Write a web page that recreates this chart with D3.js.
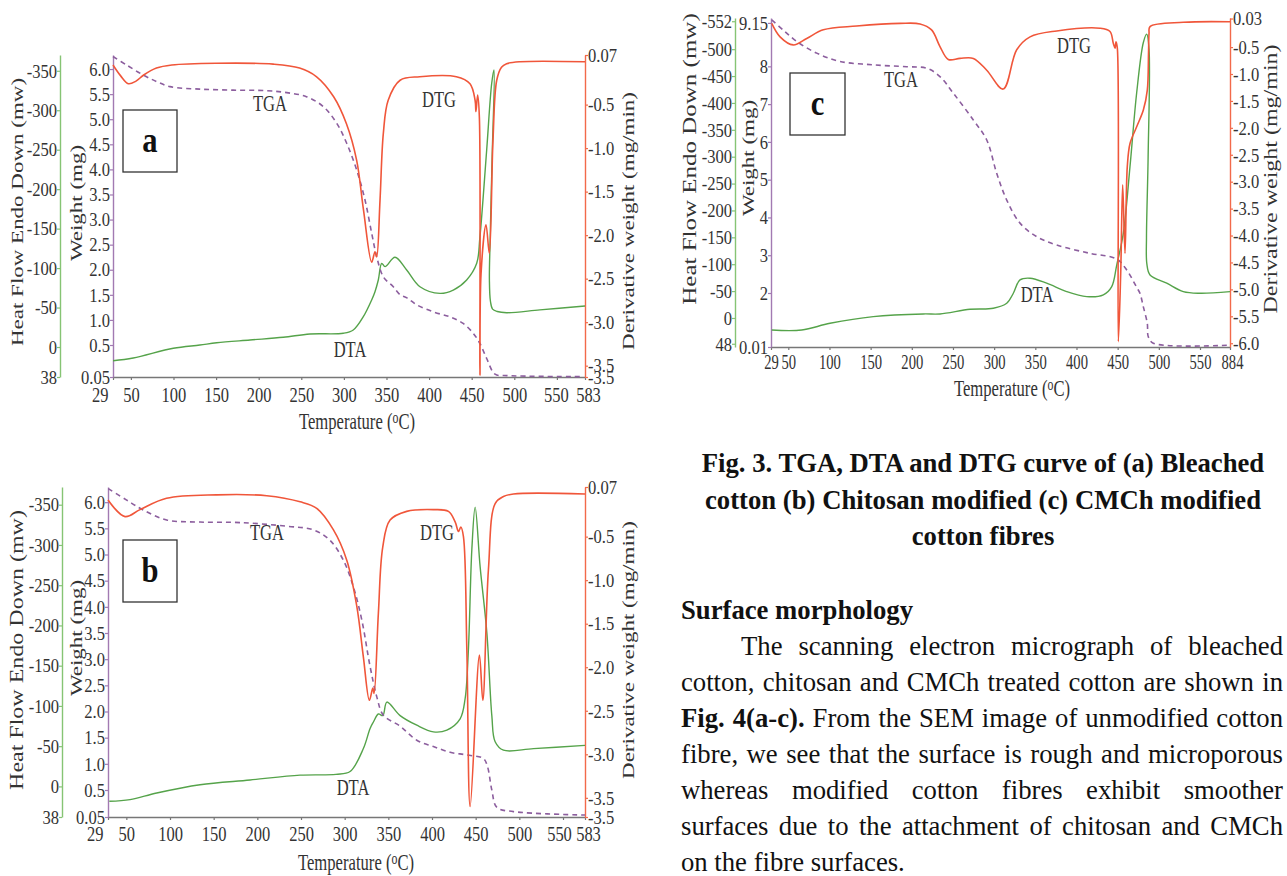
<!DOCTYPE html>
<html><head><meta charset="utf-8">
<script src="https://cdn.jsdelivr.net/npm/d3@7"></script>
<style>
html,body{margin:0;padding:0;background:#fff;}
svg{display:block;}
text{font-family:"Liberation Serif","Times New Roman",serif;}
</style></head><body>
<svg id="chart" width="1287" height="876"></svg>
<script>
// ---------------- DATA ----------------
// temperature (°C) vs DTG (mg/min), DTA heat flow (mW), TGA weight (mg)
const a_dtg = [[29,-0.045],[38,-0.17],[47,-0.26],[56,-0.23],[65,-0.16],[80,-0.08],[98,-0.045],[150,-0.025],[217,-0.035],[248,-0.08],[268,-0.18],[288,-0.41],[303,-0.72],[315,-1.14],[323,-1.71],[332.6,-2.31],[336.5,-2.19],[338.5,-2.25],[342.4,-1.60],[346.3,-0.83],[352,-0.45],[366,-0.22],[389,-0.18],[432,-0.18],[448,-0.26],[454,-0.45],[455,-0.58],[457,-0.39],[459,-0.64],[459.7,-3.61],[461,-2.44],[466.8,-1.88],[470.7,-2.21],[475,-0.91],[479.4,-0.22],[485,-0.07],[491,-0.03],[506.7,-0.007],[583,-0.007]];
const a_dta = [[29,17.4],[52.8,13.9],[99.8,1.6],[131,-2.5],[150.7,-5.4],[189.8,-8.9],[228.9,-12.3],[260.2,-16.5],[299.3,-17.4],[311,-21.5],[322.8,-38.4],[332.6,-59.6],[336.5,-70.1],[340.4,-84.9],[344.4,-106],[348.3,-101.8],[360,-113.7],[373.7,-97.6],[389.3,-76.4],[412.8,-68],[428.4,-72.2],[444.1,-84.9],[455.9,-106],[459.7,-139.8],[467.6,-249.7],[473.5,-334.2],[476.2,-351],[474,-240],[471.5,-130],[470.8,-85],[472,-58],[474.5,-48],[480,-45],[491,-43.5],[530,-47],[583,-52]];
const a_tga = [[29,6.25],[45,6.08],[64.6,5.88],[80.3,5.75],[95.9,5.65],[131,5.60],[170,5.58],[209,5.57],[233,5.53],[256,5.45],[276,5.25],[291.6,4.92],[303.3,4.52],[315,3.99],[324.8,3.39],[332.6,2.73],[338.5,2.26],[346.3,1.86],[358,1.66],[366,1.50],[374,1.44],[385.5,1.30],[405,1.16],[424.5,1.06],[440,0.93],[452,0.73],[459.7,0.53],[467.6,0.31],[477.4,0.09],[491,0.07],[581,0.055]];

const b_dtg = [[29,-0.08],[48.5,-0.27],[65.7,-0.19],[96,-0.06],[153.5,-0.02],[210.8,-0.03],[249,-0.10],[268,-0.175],[287,-0.42],[302.4,-0.77],[313.9,-1.30],[321.4,-1.88],[328.3,-2.38],[332.2,-2.24],[333.7,-2.30],[338.6,-1.38],[343.6,-0.62],[352,-0.31],[371,-0.21],[401.6,-0.19],[418.8,-0.21],[426.5,-0.33],[430.3,-0.44],[433,-0.39],[436,-0.50],[439.9,-1.8],[443.7,-3.60],[454.3,-1.86],[458.2,-2.38],[464.6,-0.88],[472.3,-0.12],[481.8,-0.04],[493.3,-0.01],[583,-0.01]];
const b_dta = [[30.5,18.5],[54.2,16.4],[84.8,8.2],[134.4,-2.1],[191.7,-8],[248.9,-14],[290,-15],[306.2,-18.5],[321.4,-47],[329.1,-72],[332.9,-80],[338.6,-90],[343.7,-88],[348.3,-104.8],[363.5,-88],[382.6,-76],[401.6,-67.8],[417,-70],[432.2,-84],[437.9,-108.9],[441.7,-170.5],[445.6,-294],[449.4,-347],[455.1,-273],[462.8,-191],[468.5,-88],[472.3,-55.5],[481.8,-45],[516.2,-47],[583,-51]];
const b_tga = [[29.3,6.26],[50.4,6.04],[69.4,5.85],[96.2,5.66],[134.4,5.62],[180.2,5.61],[233.7,5.54],[264.2,5.47],[283.3,5.27],[298.5,4.89],[310,4.38],[319.6,3.75],[329.1,2.86],[336.8,2.28],[344.3,1.93],[363.5,1.72],[382.6,1.45],[401.6,1.33],[420.8,1.22],[439.9,1.17],[458.9,1.10],[463.5,0.95],[468.5,0.5],[474.3,0.21],[493.3,0.14],[583,0.083]];

const c_dtg = [[29.9,-0.06],[40,-0.31],[56,-0.46],[72.4,-0.34],[92.5,-0.18],[133,-0.11],[185.7,-0.06],[210,-0.07],[224,-0.18],[234.2,-0.49],[244.3,-0.73],[258.5,-0.71],[274.7,-0.71],[291,-0.93],[311,-1.28],[327.4,-0.55],[343.6,-0.31],[376,-0.20],[428.6,-0.15],[440.7,-0.21],[444.7,-0.43],[446.8,-0.52],[448,-0.40],[449.6,-0.52],[450.8,-5.97],[453.7,-4.70],[456.1,-3.06],[458.9,-4.33],[461.7,-2.72],[465,-2.29],[473.1,-1.98],[481.2,-1.67],[486,-1.30],[487.5,-0.6],[488.1,-0.25],[489.3,-0.12],[529.7,-0.04],[884,-0.03]];
const c_dta = [[29.9,22.4],[66.3,22.4],[100.7,9.9],[153.2,-2.5],[214,-7.5],[234.2,-7.5],[270.7,-16.2],[299,-18.1],[315.3,-27.4],[323.3,-46],[331.4,-70.9],[343.6,-74],[363.8,-64.7],[388.1,-49],[412.4,-39.7],[432.6,-43],[442.8,-58.4],[448.8,-98],[456.9,-158],[465,-282],[473.1,-419],[481.2,-512.5],[485.3,-528],[488.1,-500],[487,-300],[485,-150],[485.5,-100],[489.3,-80],[509.6,-64.7],[529.7,-49],[550,-46],[884,-49]];
const c_tga = [[29.9,9.23],[43.9,8.96],[60.2,8.66],[84.5,8.35],[112.8,8.13],[153.2,8.04],[193.8,7.99],[218.1,7.95],[234.2,7.73],[250.4,7.29],[274.7,6.58],[291,6.05],[303.1,5.17],[315.3,4.46],[331.4,3.85],[351.7,3.49],[376,3.27],[416.4,3.05],[448.8,2.9],[461,2.61],[473.1,2.15],[477.1,1.99],[481.2,1.49],[486,0.88],[487.2,0.39],[493.3,0.15],[884,0.08]];

// tick values / labels
const ab_xTicks = [29,50,100,150,200,250,300,350,400,450,500,550,583];
const c_xTicks  = [29,50,100,150,200,250,300,350,400,450,500,550,884];
const ab_hfTicks = [-350,-300,-250,-200,-150,-100,-50,0,38];
const c_hfTicks  = [-552,-500,-450,-400,-350,-300,-250,-200,-150,-100,-50,0,48];
const ab_wTicks = [0.05,0.5,1.0,1.5,2.0,2.5,3.0,3.5,4.0,4.5,5.0,5.5,6.0];
const ab_wLabels = ["0.05","0.5","1.0","1.5","2.0","2.5","3.0","3.5","4.0","4.5","5.0","5.5","6.0"];
const c_wTicks = [0.01,2,3,4,5,6,7,8,9.15];
const c_wLabels = ["0.01","2","3","4","5","6","7","8","9.15"];
const a_dTicks = [0.07,-0.5,-1.0,-1.5,-2.0,-2.5,-3.0,-3.5,-3.63];
const b_dTicks = [0.07,-0.5,-1.0,-1.5,-2.0,-2.5,-3.0,-3.5,-3.72];
const ab_dLabels = ["0.07","-0.5","-1.0","-1.5","-2.0","-2.5","-3.0","-3.5","-3.5"];
const c_dTicks = [0.03,-0.5,-1.0,-1.5,-2.0,-2.5,-3.0,-3.5,-4.0,-4.5,-5.0,-5.5,-6.0];
const c_dLabels = ["0.03","-0.5","-1.0","-1.5","-2.0","-2.5","-3.0","-3.5","-4.0","-4.5","-5.0","-5.5","-6.0"];

const captionLines = ["Fig. 3. TGA, DTA and DTG curve of (a) Bleached","cotton (b) Chitosan modified (c) CMCh modified","cotton fibres"];
const headingText = "Surface morphology";
const paraLines = [
  [{t:"The scanning electron micrograph of bleached"}],
  [{t:"cotton, chitosan and CMCh treated cotton are shown in"}],
  [{t:"Fig. 4(a-c).",b:true},{t:" From the SEM image of unmodified cotton"}],
  [{t:"fibre, we see that the surface is rough and microporous"}],
  [{t:"whereas modified cotton fibres exhibit smoother"}],
  [{t:"surfaces due to the attachment of chitosan and CMCh"}],
  [{t:"on the fibre surfaces."}]
];

// ---------------- STYLE ----------------
const COL = {dtg:"#f0563a", dta:"#55a34a", tga:"#8c5e9e", axG:"#86c474", axP:"#a27ab2", axR:"#f26a4a", axX:"#777", txt:"#333", body:"#111"};
const svg = d3.select("#chart");

function fmt(labels){ return (d,i)=>labels[i]; }
const plain = d=>String(d);   // hyphen-minus like the reference

function styleAxis(gAx, color, font){
  gAx.attr("font-family",'"Liberation Serif","Times New Roman",serif').attr("font-size",font);
  gAx.select(".domain").attr("stroke",color).attr("stroke-width",1.4);
  gAx.selectAll(".tick line").attr("stroke",color).attr("stroke-width",1.2);
  gAx.selectAll(".tick text").attr("fill",COL.txt);
}

function vtitle(x,y,str,size,sx){
  svg.append("text").attr("transform",`translate(${x},${y}) scale(${sx},1) rotate(-90)`)
    .attr("text-anchor","middle").attr("dominant-baseline","central")
    .attr("font-size",size).attr("fill",COL.txt).text(str);
}
function htext(x,y,str,size,sx,opts={}){
  return svg.append("text").attr("transform",`translate(${x},${y}) scale(${sx},1)`)
    .attr("text-anchor",opts.anchor||"middle").attr("font-size",size)
    .attr("font-weight",opts.bold?"bold":null).attr("fill",opts.fill||COL.txt).text(str);
}

function drawPanel(P){
  const xs = d3.scaleLinear().domain(P.xDom).range(P.xRng);
  const hs = d3.scaleLinear().domain(P.hDom).range([P.bottom,P.top]);
  const ws = d3.scaleLinear().domain(P.wDom).range(P.wRng);
  const ds = d3.scaleLinear().domain(P.dDom).range([P.bottom,P.top]);
  const ySx = 0.85;
  const nX = P.xTicks.length;

  // x axis
  const gx = svg.append("g").attr("transform",`translate(0,${P.bottom})`)
    .call(d3.axisBottom(xs).tickValues(P.xTicks).tickFormat(plain).tickSize(3).tickSizeOuter(0));
  styleAxis(gx, COL.axX, P.xFont);
  gx.selectAll(".tick text").attr("y",null).attr("dy",null)
    .attr("text-anchor",(d,i)=> (i===0 && P.firstEnd) ? "end" : "middle")
    .attr("transform",(d,i)=>{
      let dx = 0;
      if(i===0 && P.firstEnd) dx = -5;
      if(i===nX-2) dx = P.preLastDx || 0;
      if(i===nX-1) dx = P.lastDx || 0;
      return `translate(${dx},${P.xOff}) scale(${P.xSx},1)`;
    });

  // heat flow axis (left, green)
  const gh = svg.append("g").attr("transform",`translate(${P.hX},0)`)
    .call(d3.axisLeft(hs).tickValues(P.hTicks).tickFormat(plain).tickSize(3).tickSizeOuter(0));
  styleAxis(gh, COL.axG, P.yFont);
  gh.selectAll(".tick text").attr("x",null).attr("transform",`translate(-3,0) scale(${ySx},1)`);

  // weight axis (purple)
  const gw = svg.append("g").attr("transform",`translate(${P.wX},0)`)
    .call(d3.axisLeft(ws).tickValues(P.wTicks).tickFormat(fmt(P.wLabels)).tickSize(3).tickSizeOuter(0));
  styleAxis(gw, COL.axP, P.yFont);
  gw.selectAll(".tick text").attr("x",null).attr("transform",`translate(-3,0) scale(${ySx},1)`);

  // derivative axis (right, red)
  const gd = svg.append("g").attr("transform",`translate(${P.dX},0)`)
    .call(d3.axisRight(ds).tickValues(P.dTicks).tickFormat(fmt(P.dLabels)).tickSize(3).tickSizeOuter(0));
  styleAxis(gd, COL.axR, P.yFont);
  gd.selectAll(".tick text").attr("x",null).attr("transform",`translate(3,0) scale(${ySx},1)`);

  // curves
  const cr = d3.curveCatmullRom.alpha(0.5);
  const lineH = d3.line().x(d=>xs(d[0])).y(d=>hs(d[1])).curve(cr);
  const lineW = d3.line().x(d=>xs(d[0])).y(d=>ws(d[1])).curve(cr);
  const lineD = d3.line().x(d=>xs(d[0])).y(d=>ds(d[1])).curve(cr);
  svg.append("path").attr("d",lineH(P.dta)).attr("fill","none").attr("stroke",COL.dta).attr("stroke-width",1.4);
  svg.append("path").attr("d",lineW(P.tga)).attr("fill","none").attr("stroke",COL.tga).attr("stroke-width",1.6).attr("stroke-dasharray","5,4");
  svg.append("path").attr("d",lineD(P.dtg)).attr("fill","none").attr("stroke",COL.dtg).attr("stroke-width",1.6);

  // titles
  vtitle(P.hT[0],P.hT[1],"Heat Flow Endo Down (mw)",P.hT[2],0.75);
  vtitle(P.wT[0],P.wT[1],"Weight (mg)",P.wT[2],0.75);
  vtitle(P.dT[0],P.dT[1],"Derivative weight (mg/min)",P.dT[2],0.75);
  const tt = svg.append("text").attr("transform",`translate(${P.tT[0]},${P.tT[1]}) scale(0.74,1)`)
    .attr("text-anchor","middle").attr("font-size",22.5).attr("fill",COL.txt);
  tt.append("tspan").text("Temperature (");
  tt.append("tspan").attr("font-size",16).attr("dy",-6).text("o");
  tt.append("tspan").attr("dy",6).text("C)");

  // inner labels
  P.labels.forEach(l=>htext(l[1],l[2],l[0],23,0.72));

  // panel letter box
  svg.append("rect").attr("x",P.box[0]).attr("y",P.box[1]).attr("width",P.box[2]).attr("height",P.box[3])
    .attr("fill","#fff").attr("stroke","#333").attr("stroke-width",1.3);
  htext(P.box[0]+P.box[2]/2, P.box[1]+P.box[3]/2+11, P.letter, 36, 0.85, {bold:true, fill:"#111"});
}

drawPanel({
  top:55,bottom:377, hX:60,wX:113,dX:585,
  xDom:[29,583], xRng:[113,585], xTicks:ab_xTicks, xFont:22, xSx:0.75, xOff:25, firstEnd:true, preLastDx:-1, lastDx:3,
  hDom:[38,-370], hTicks:ab_hfTicks,
  wDom:[0.05,0.5,6.28], wRng:[377,345,55], wTicks:ab_wTicks, wLabels:ab_wLabels,
  dDom:[-3.63,0.07], dTicks:a_dTicks, dLabels:ab_dLabels, yFont:19.5,
  dtg:a_dtg, dta:a_dta, tga:a_tga,
  hT:[17,212,23], wT:[76,203,23], dT:[628,221,23], tT:[357,429],
  labels:[["TGA",270,111],["DTG",439,107],["DTA",350,357]],
  box:[123,110,54,62], letter:"a"
});
drawPanel({
  top:487,bottom:817, hX:62,wX:108,dX:585,
  xDom:[29,550,583], xRng:[108,563,585], xTicks:ab_xTicks, xFont:22, xSx:0.75, xOff:24, firstEnd:true, preLastDx:-4, lastDx:3,
  hDom:[38,-372], hTicks:ab_hfTicks,
  wDom:[0.05,0.5,6.29], wRng:[817,790,487], wTicks:ab_wTicks, wLabels:ab_wLabels,
  dDom:[-3.72,0.07], dTicks:b_dTicks, dLabels:ab_dLabels, yFont:19.5,
  dtg:b_dtg, dta:b_dta, tga:b_tga,
  hT:[17,650,24], wT:[76,638,23], dT:[628,650,23], tT:[356,870],
  labels:[["TGA",267,540],["DTG",437,540],["DTA",353,795]],
  box:[123,540,54,62], letter:"b"
});
drawPanel({
  top:18,bottom:347, hX:735,wX:771,dX:1230,
  xDom:[29,550,884], xRng:[771,1200,1230], xTicks:c_xTicks, xFont:20, xSx:0.73, xOff:22, firstEnd:false, preLastDx:0, lastDx:2,
  hDom:[54,-558], hTicks:c_hfTicks,
  wDom:[0.01,2,9.28], wRng:[347,293,18], wTicks:c_wTicks, wLabels:c_wLabels,
  dDom:[-6.07,0.04], dTicks:c_dTicks, dLabels:c_dLabels, yFont:19.5,
  dtg:c_dtg, dta:c_dta, tga:c_tga,
  hT:[690,159,25], wT:[748,158,23], dT:[1271,179,24], tT:[1012,396],
  labels:[["TGA",901,87],["DTG",1074,53],["DTA",1037,302]],
  box:[790,73,55,62], letter:"c"
});

// ---------------- TEXT COLUMN ----------------
const FS = 26.7;
const capY = [472,509,545];
captionLines.forEach((s,i)=>{
  svg.append("text").attr("x",983).attr("y",capY[i]).attr("text-anchor","middle")
    .attr("font-size",FS).attr("font-weight","bold").attr("fill",COL.body).text(s);
});
svg.append("text").attr("x",681).attr("y",619).attr("font-size",FS).attr("font-weight","bold")
  .attr("fill",COL.body).text(headingText);
paraLines.forEach((segs,i)=>{
  const x0 = i===0 ? 741 : 681, x1 = 1283;
  const y = 655 + i*36;
  const t = svg.append("text").attr("x",x0).attr("y",y).attr("font-size",FS).attr("fill",COL.body)
    .attr("xml:space","preserve");
  segs.forEach(s=>t.append("tspan").attr("font-weight",s.b?"bold":null).text(s.t));
  if(i < paraLines.length-1){
    const len = t.node().getComputedTextLength();
    const nsp = segs.map(s=>s.t).join("").split(" ").length-1;
    if(nsp>0) t.style("word-spacing", ((x1-x0-len)/nsp)+"px");
  }
});
</script>
</body></html>
